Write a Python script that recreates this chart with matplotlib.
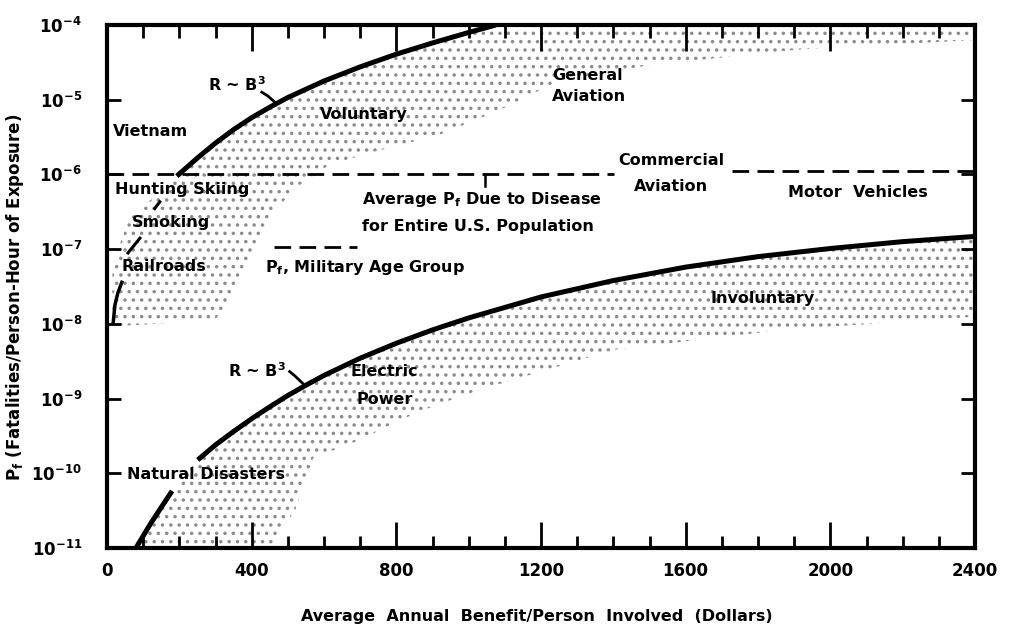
import matplotlib
matplotlib.use("Agg")
import matplotlib.pyplot as plt
from matplotlib.ticker import FixedLocator, NullLocator

plt.rcParams['font.family'] = ['DejaVu Sans']
plt.rcParams['font.weight'] = 'bold'
plt.rcParams['mathtext.fontset'] = 'dejavusans'
plt.rcParams['mathtext.default'] = 'bf'
plt.rcParams['hatch.linewidth'] = 1.3

# voluntary risk curve, R ~ B^3 (benefit in dollars, fatalities per person-hour)
vol_x = [193, 250, 300, 350, 400, 450, 500, 600, 700, 800, 900, 1000, 1075]
vol_p = [9.5e-7, 1.66e-6, 2.63e-6, 3.98e-6, 5.75e-6, 7.94e-6, 1.07e-5, 1.78e-5,
         2.75e-5, 4.07e-5, 5.75e-5, 7.94e-5, 1.0e-4]

# involuntary risk curve, drawn in two pieces around "Natural Disasters"
inv_x1 = [80, 120, 150, 180]
inv_p1 = [1.0e-11, 2.1e-11, 3.5e-11, 5.8e-11]
inv_x2 = [251, 300, 350, 400, 450, 500, 550, 600, 700, 800, 900, 1000,
          1200, 1400, 1600, 1800, 2000, 2200, 2400]
inv_p2 = [1.51e-10, 2.4e-10, 3.63e-10, 5.37e-10, 7.76e-10, 1.1e-9, 1.51e-9, 2.04e-9,
          3.47e-9, 5.5e-9, 8.3e-9, 1.2e-8, 2.29e-8, 3.8e-8, 5.75e-8, 7.94e-8,
          1.02e-7, 1.26e-7, 1.48e-7]

# shaded bands
vol_band_top_x = [15, 60, 130] + vol_x + [2400]
vol_band_top_p = [6e-8, 2.5e-7, 5e-7] + vol_p + [1.0e-4]
vol_band_bot_x = [15, 50, 298, 353, 422, 463, 532, 615, 753, 919, 1084, 1250, 1498, 1912, 2400]
vol_band_bot_p = [1.0e-8, 9.5e-9, 1.1e-8, 2.8e-8, 1.3e-7, 3.3e-7, 7.2e-7, 1.35e-6,
                  2.1e-6, 3.4e-6, 7.2e-6, 1.8e-5, 2.9e-5, 4.7e-5, 6.3e-5]
inv_band_top_x = inv_x1 + [215] + inv_x2
inv_band_top_p = inv_p1 + [9.5e-11] + inv_p2
inv_band_bot_x = [80, 450, 520, 570, 700, 808, 899, 1029, 1401, 1868, 2400]
inv_band_bot_p = [1.0e-11, 1.0e-11, 3.2e-11, 1.6e-10, 2.8e-10, 5.1e-10, 7.8e-10,
                  1.3e-9, 4.5e-9, 8.3e-9, 1.25e-8]

# reference levels
disease_x1 = [0, 1401]
disease_x2 = [1727, 2400]
disease_p1 = 1.0e-6
disease_p2 = 1.1e-6
military_x = [463, 692]
military_p = 1.07e-7

# small pointer strokes
rail_x = [17, 22, 30, 41]
rail_p = [1.02e-8, 1.8e-8, 2.6e-8, 3.6e-8]

xticks = [0, 400, 800, 1200, 1600, 2000, 2400]
yticks = [1e-11, 1e-10, 1e-9, 1e-8, 1e-7, 1e-6, 1e-5, 1e-4]
ylabels = [r'$10^{-11}$', r'$10^{-10}$', r'$10^{-9}$', r'$10^{-8}$',
           r'$10^{-7}$', r'$10^{-6}$', r'$10^{-5}$', r'$10^{-4}$']

fig = plt.figure(figsize=(10.1, 6.37), dpi=100)
ax = fig.add_axes([107 / 1010, 89 / 637, 868 / 1010, 523 / 637])
ax.set_yscale('log')
ax.set_xlim(0, 2400)
ax.set_ylim(1e-11, 1e-4)

ax.fill(vol_band_top_x + vol_band_bot_x[::-1], vol_band_top_p + vol_band_bot_p[::-1],
        facecolor='none', edgecolor='0.55', hatch='..', lw=0, zorder=1)
ax.fill(inv_band_top_x + inv_band_bot_x[::-1], inv_band_top_p + inv_band_bot_p[::-1],
        facecolor='none', edgecolor='0.55', hatch='..', lw=0, zorder=1)

ax.plot(vol_x, vol_p, color='black', lw=3.6, solid_capstyle='butt', zorder=3)
ax.plot(inv_x1, inv_p1, color='black', lw=3.6, solid_capstyle='butt', zorder=3)
ax.plot(inv_x2, inv_p2, color='black', lw=3.6, solid_capstyle='butt', zorder=3)

ax.plot(disease_x1, [disease_p1] * 2, color='black', lw=2, dashes=(6, 3), zorder=2)
ax.plot(disease_x2, [disease_p2] * 2, color='black', lw=2, dashes=(6, 3), zorder=2)
ax.plot(military_x, [military_p] * 2, color='black', lw=2, dashes=(6, 3), zorder=2)

ax.plot(rail_x, rail_p, color='black', lw=2.5, zorder=3)
ax.plot([58, 91], [8.9e-8, 1.4e-7], color='black', lw=2.2, zorder=3)
ax.plot([132, 146], [3.5e-7, 4.3e-7], color='black', lw=2.2, zorder=3)
ax.plot([428, 445, 466], [1.26e-5, 1.12e-5, 9.1e-6], color='black', lw=2, zorder=3)
ax.plot([505, 520, 541], [2.3e-9, 2.0e-9, 1.6e-9], color='black', lw=2, zorder=3)
ax.plot([1045, 1045], [9.6e-7, 7.1e-7], color='black', lw=1.8, zorder=3)

fs = 11.5
labels = [
    (279, 1.6e-5, r'R ~ B$^{3}$', 'left'),
    (17, 3.7e-6, 'Vietnam', 'left'),
    (588, 6.3e-6, 'Voluntary', 'left'),
    (1230, 2.1e-5, 'General', 'left'),
    (1230, 1.1e-5, 'Aviation', 'left'),
    (1559, 1.55e-6, 'Commercial', 'center'),
    (1559, 6.8e-7, 'Aviation', 'center'),
    (1884, 5.8e-7, 'Motor  Vehicles', 'left'),
    (22, 6.2e-7, 'Hunting Skiing', 'left'),
    (706, 4.6e-7, r'Average P$_{f}$ Due to Disease', 'left'),
    (706, 2.0e-7, 'for Entire U.S. Population', 'left'),
    (69, 2.3e-7, 'Smoking', 'left'),
    (41, 5.8e-8, 'Railroads', 'left'),
    (436, 5.6e-8, r'P$_{f}$, Military Age Group', 'left'),
    (1670, 2.2e-8, 'Involuntary', 'left'),
    (334, 2.4e-9, r'R ~ B$^{3}$', 'left'),
    (767, 2.3e-9, 'Electric', 'center'),
    (767, 9.8e-10, 'Power', 'center'),
    (55, 9.5e-11, 'Natural Disasters', 'left'),
]
for x, y, s, ha in labels:
    ax.text(x, y, s, fontsize=fs, fontweight='bold', ha=ha, va='center', zorder=4)

for side in ['left', 'right', 'top', 'bottom']:
    ax.spines[side].set_linewidth(3)

ax.xaxis.set_major_locator(FixedLocator(xticks))
ax.xaxis.set_minor_locator(FixedLocator(list(range(0, 2401, 100))))
ax.set_xticklabels([str(v) for v in xticks])
ax.yaxis.set_major_locator(FixedLocator(yticks))
ax.yaxis.set_minor_locator(NullLocator())
ax.set_yticklabels(ylabels)
ax.tick_params(axis='x', which='major', direction='in', top=True, length=19, width=2,
               pad=10, labelsize=12)
ax.tick_params(axis='x', which='minor', direction='in', top=True, length=9, width=2)
ax.tick_params(axis='y', which='major', direction='in', right=True, length=10, width=2,
               pad=18, labelsize=12)

fig.text(15 / 1010, 1 - 297 / 637, r'P$_{f}$ (Fatalities/Person-Hour of Exposure)',
         rotation=90, ha='center', va='center', fontsize=12, fontweight='bold')
fig.text(537 / 1010, 1 - 617 / 637, 'Average  Annual  Benefit/Person  Involved  (Dollars)',
         ha='center', va='center', fontsize=11.5, fontweight='bold')

fig.savefig('out.png', dpi=100)
